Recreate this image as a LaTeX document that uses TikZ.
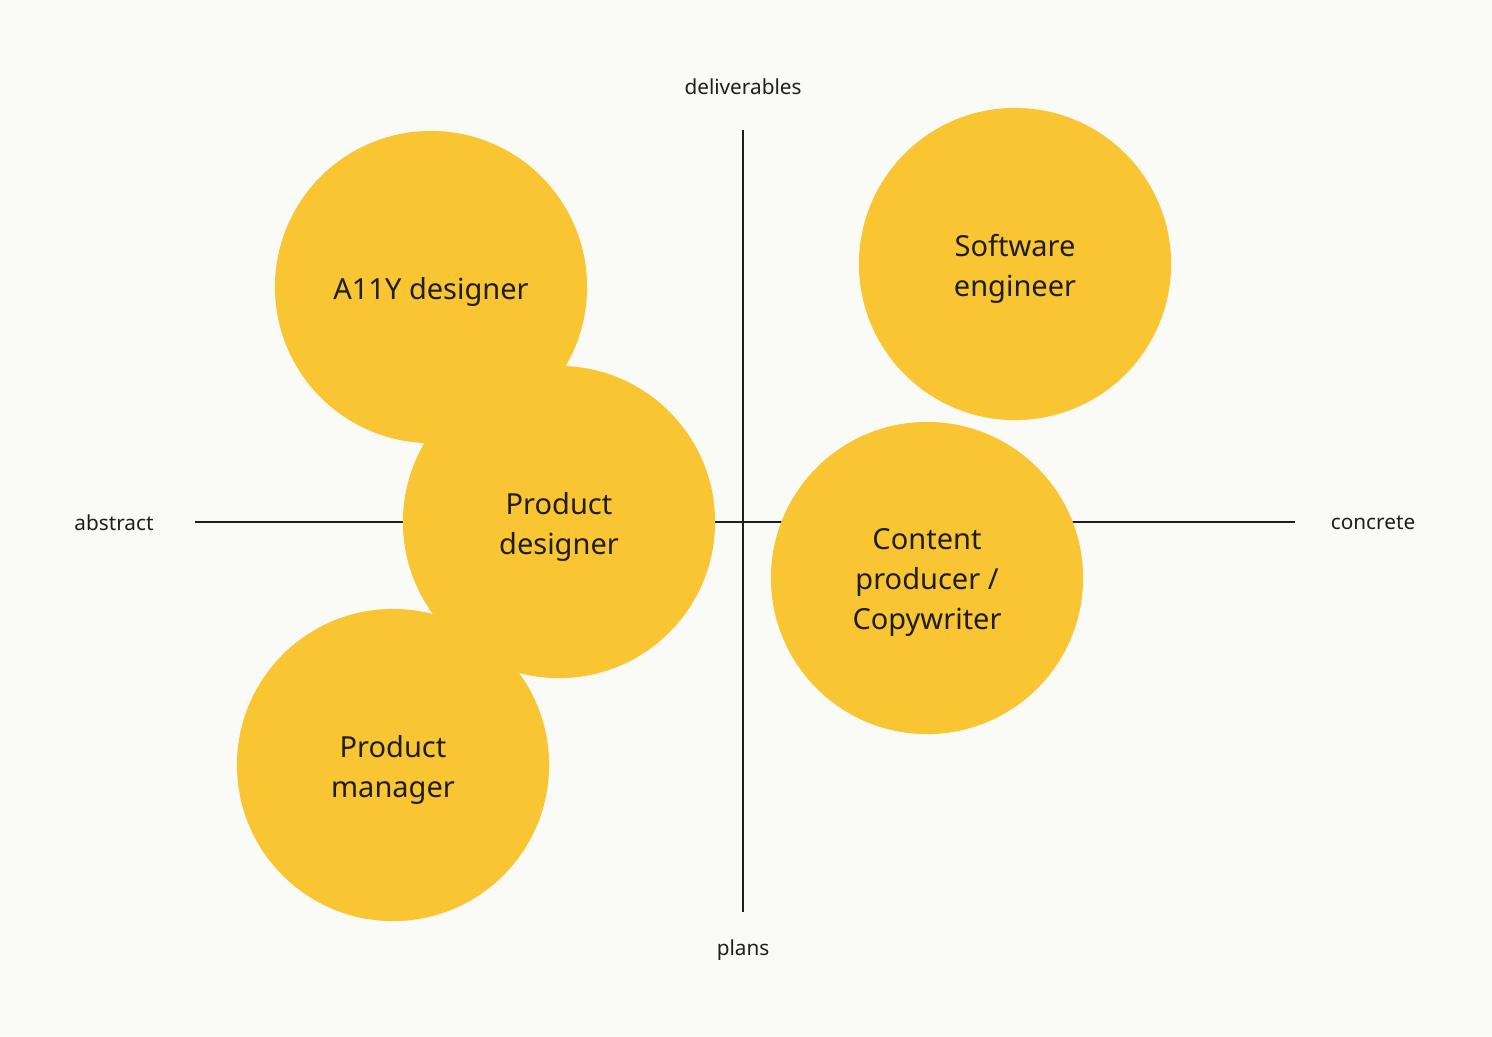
\documentclass[tikz,border=0pt]{standalone}
\usepackage{xcolor}
\usepackage{fontspec}
\setmainfont{Noto Sans}
\usepackage{tikz}
\usetikzlibrary{positioning}
\definecolor{bggray}{HTML}{FAFBF7}
\definecolor{roleyellow}{HTML}{F9C532}
\definecolor{inkgray}{HTML}{1E1E1E}

\begin{document}
\begin{tikzpicture}[
    x=0.01cm, y=-0.01cm,
    role/.style={circle, fill=roleyellow, minimum size=3.12cm, inner sep=0pt},
    roletext/.style={align=center, inner sep=0pt, font=\fontsize{8.25}{11.4}\selectfont, text=inkgray},
    axislabel/.style={font=\fontsize{5.9}{7}\selectfont, text=inkgray},
    axisline/.style={draw=inkgray, line width=0.5pt}
]
    \fill[bggray] (0,0) rectangle (1492,1036);
    % axes
    \coordinate (top) at (743,130);
    \coordinate (bottom) at (743,912);
    \coordinate (left) at (195,522);
    \coordinate (right) at (1295,522);
    \node[axislabel] (deliv) at (743,87) {deliverables};
    \node[axislabel] (plans) at (743,950) {plans};
    \node[axislabel] (abstr) at (114,523) {abstract};
    \node[axislabel] (concr) at (1373,523) {concrete};
    \draw[axisline] (top) -- (bottom);
    \draw[axisline] (left) -- (right);
    % roles
    \node[role] (a11y) at (431,287) {};
    \node[role] (swe) at (1015,264) {};
    \node[role] (pd) at (559,522) {};
    \node[role] (pm) at (393,765) {};
    \node[role] (cw) at (927,578) {};
    \node[roletext] (a11yname) at ([yshift=-0.045cm]a11y) {A11Y designer};
    \node[roletext] (swename) at ([yshift=-0.045cm]swe) {Software\\engineer};
    \node[roletext] (pdname) at ([yshift=-0.045cm]pd) {Product\\designer};
    \node[roletext] (pmname) at ([yshift=-0.045cm]pm) {Product\\manager};
    \node[roletext] (cwname) at ([yshift=-0.045cm]cw) {Content\\producer /\\Copywriter};
\end{tikzpicture}
\end{document}
